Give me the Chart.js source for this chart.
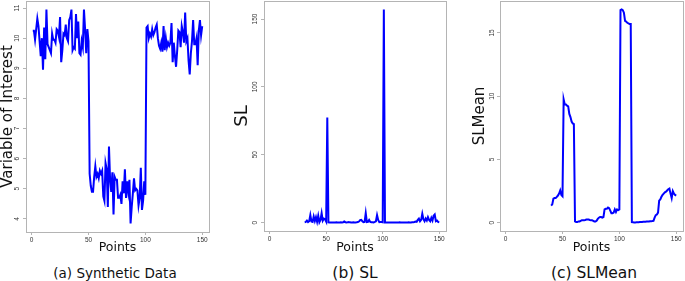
<!DOCTYPE html>
<html>
<head>
<meta charset="utf-8">
<script src="https://cdn.jsdelivr.net/npm/chart.js@4.4.1/dist/chart.umd.min.js"></script>
<style>
  body { margin: 0; background: #fff; }
  #wrap { position: relative; width: 685px; height: 281px; overflow: hidden; }
  .panel { position: absolute; top: 0; }
  .cap { position: absolute; top: 263px; height: 20px; line-height: 20px; width: 230px; text-align: center;
         font-family: "DejaVu Sans", sans-serif; color: #111; }
</style>
</head>
<body>
<div id="wrap">
  <canvas id="chartA" class="panel" width="230" height="260" style="left:0px"></canvas>
  <canvas id="chartB" class="panel" width="230" height="260" style="left:230px"></canvas>
  <canvas id="chartC" class="panel" width="230" height="260" style="left:455px"></canvas>
  <div class="cap" style="left:0px;font-size:13.5px">(a) Synthetic Data</div>
  <div class="cap" style="left:240px;font-size:15.5px">(b) SL</div>
  <div class="cap" style="left:479px;font-size:15.5px">(c) SLMean</div>
</div>
<script>
// x tick labels shared by all three panels
var xTicks = [0, 50, 100, 150];
var nPoints = 150;

// (a) Synthetic Data, points 1..150
var synthetic = [
  10.25,10.25,9.95,10.3,10.65,10.4,9.9,9.4,10.0,8.95,10.35,9.3,10.95,9.8,9.7,9.6,9.5,10.15,9.95,9.95,
  9.85,10.3,10.25,10.05,10.7,9.2,9.6,10.15,10.1,10.45,10.0,9.9,10.6,10.7,10.95,9.6,9.7,9.65,10.8,10.0,
  10.55,9.5,9.45,9.9,9.7,10.95,10.3,9.5,10.3,9.9,
  5.5,5.1,4.9,4.9,5.4,5.75,5.4,5.5,5.35,5.6,5.5,5.6,4.75,4.6,5.85,5.65,4.4,6.4,5.3,4.9,
  5.55,4.15,5.4,5.3,5.3,4.7,4.7,4.8,4.5,5.25,4.85,5.65,4.7,5.25,4.9,5.3,3.85,4.4,4.85,5.35,
  4.95,5.0,4.95,4.45,4.7,5.7,4.3,4.6,5.25,4.8,
  10.35,10.4,10.0,10.15,10.05,10.3,10.1,10.2,10.35,10.45,10.0,9.75,9.65,9.85,9.55,10.4,9.6,10.0,9.7,9.85,
  9.75,9.85,10.5,9.2,9.85,9.4,9.05,9.6,10.25,10.2,9.7,10.4,10.2,9.85,10.85,9.9,10.0,9.25,8.8,9.5,
  9.9,10.6,9.8,9.8,10.0,9.1,10.25,10.6,10.1,10.4
];
var syntheticTicks = [4, 5, 6, 7, 8, 9, 10, 11];

// (b) SL, points 31..150
var slStart = 31;
var sl = [
  0.3,0.5,1.5,0.4,1.0,5.5,0.8,0.5,4.5,1.2,4.0,0.6,5.0,0.3,2.0,7.0,1.5,3.0,2.5,0.8,
  77.5,0.2,0.1,0.1,0.1,0.1,0.1,0.1,0.2,0.1,0.1,0.1,0.2,0.1,0.3,0.8,0.3,0.1,0.2,0.5,
  0.2,0.1,0.1,0.2,0.1,0.1,0.2,0.4,0.8,1.8,2.0,1.0,0.3,0.5,7.0,0.4,0.6,2.0,0.5,0.2,
  0.3,0.1,0.5,1.0,5.5,2.0,0.3,0.5,0.4,0.2,157,0.1,0.1,0.1,0.1,0.1,0.1,0.1,0.1,0.1,
  0.1,0.1,0.1,0.1,0.2,0.1,0.1,0.1,0.1,0.1,0.1,0.1,0.2,0.1,0.1,0.2,0.3,0.5,0.8,0.6,
  2.0,3.0,1.0,2.0,6.5,2.5,1.0,3.0,1.5,4.0,2.0,1.0,3.5,1.5,5.0,6.0,1.0,1.5,0.5,0.2
];
var slTicks = [0, 50, 100, 150];

// (c) SLMean, points 40..150
var slMeanStart = 40;
var slMean = [
  1.35,1.45,1.9,1.95,1.95,2.05,2.15,2.3,2.55,2.2,2.1,
  9.75,9.35,9.35,9.25,9.2,8.6,8.35,8.0,7.85,7.8,
  0.1,0.05,0.05,0.1,0.1,0.15,0.2,0.2,0.2,0.22,
  0.25,0.25,0.25,0.22,0.2,0.2,0.15,0.1,0.1,0.15,
  0.3,0.4,0.45,0.45,0.4,0.45,1.05,1.1,1.1,1.2,
  1.15,0.95,0.75,0.75,0.8,1.05,0.85,1.05,1.0,1.05,
  16.8,16.85,16.8,16.6,15.95,15.9,15.8,15.75,15.7,15.7,
  0.05,0.03,0.02,0.02,0.03,0.03,0.04,0.05,0.05,0.06,
  0.07,0.08,0.08,0.1,0.1,0.1,0.12,0.12,0.13,0.15,
  0.4,0.6,0.65,0.8,1.75,1.85,2.05,2.2,2.3,2.4,
  2.45,2.55,2.65,2.7,2.3,1.95,2.5,2.3,2.2,2.15
];
var slMeanTicks = [0, 5, 10, 15];

function toXY(values, start) {
  var out = [];
  for (var i = 0; i < values.length; i++) out.push({x: start + i, y: values[i]});
  return out;
}

// R style range: data range padded by 4% on each side
function rRange(lo, hi) {
  var d = (hi - lo) * 0.04;
  return [lo - d, hi + d];
}

// grey box round the plot area, like R's box()
var boxPlugin = {
  id: 'rbox',
  afterDraw: function(chart) {
    var a = chart.chartArea, ctx = chart.ctx;
    ctx.save();
    ctx.strokeStyle = '#b4b4b4';
    ctx.lineWidth = 1;
    ctx.strokeRect(Math.round(a.left) + 0.5, Math.round(a.top) + 0.5,
      Math.round(a.right - a.left), Math.round(a.bottom - a.top));
    ctx.restore();
  }
};

function makePanel(id, p) {
  var xr = rRange(1, nPoints);
  var yr = rRange(Math.min.apply(null, p.values), Math.max.apply(null, p.values));
  return new Chart(document.getElementById(id), {
    type: 'line',
    data: {
      datasets: [{
        data: toXY(p.values, p.start),
        borderColor: '#0000ff',
        borderWidth: 2,
        pointRadius: 0,
        tension: 0,
        fill: false
      }]
    },
    options: {
      responsive: false,
      animation: false,
      events: [],
      layout: { padding: { left: 0, top: 1, right: p.right, bottom: 0 } },
      plugins: { legend: { display: false }, tooltip: { enabled: false } },
      scales: {
        x: {
          type: 'linear',
          min: xr[0], max: xr[1],
          afterBuildTicks: function(s) { s.ticks = xTicks.map(function(v) { return {value: v}; }); },
          afterFit: function(s) { s.height = 260 - p.bottom; s.paddingLeft = 0; s.paddingRight = 0; },
          border: { display: false },
          grid: { display: true, drawOnChartArea: false, drawTicks: true, tickLength: 3, color: '#b4b4b4' },
          ticks: { padding: 1, color: '#333', font: { family: 'Liberation Sans', size: 6.5 },
                   maxRotation: 0, autoSkip: false, callback: function(v) { return v; } },
          title: { display: true, text: 'Points', color: '#111', padding: { top: 0, bottom: 6 },
                   font: { family: 'DejaVu Sans', size: 12.5, lineHeight: 1 } }
        },
        y: {
          type: 'linear',
          min: yr[0], max: yr[1],
          afterBuildTicks: function(s) { s.ticks = p.yTicks.map(function(v) { return {value: v}; }); },
          afterFit: function(s) { s.width = p.left; s.paddingTop = 0; s.paddingBottom = 0; },
          border: { display: false },
          grid: { display: true, drawOnChartArea: false, drawTicks: true, tickLength: 3, color: '#b4b4b4' },
          ticks: { padding: p.tickPad, color: '#333', crossAlign: 'center', minRotation: 90, maxRotation: 90,
                   font: { family: 'Liberation Sans', size: 6.5 }, autoSkip: false,
                   callback: function(v) { return v; } },
          title: { display: true, text: p.title, color: '#111', padding: { top: p.titlePad, bottom: 0 },
                   font: { family: 'DejaVu Sans', size: p.titleSize, lineHeight: 1 } }
        }
      }
    },
    plugins: [boxPlugin]
  });
}

makePanel('chartA', { values: synthetic, start: 1, yTicks: syntheticTicks, title: 'Variable of Interest',
  titleSize: 15, titlePad: 0.5, left: 26, right: 21, bottom: 232, tickPad: 2 });
makePanel('chartB', { values: sl, start: slStart, yTicks: slTicks, title: 'SL',
  titleSize: 18, titlePad: 3, left: 34, right: 14, bottom: 231, tickPad: 0.5 });
makePanel('chartC', { values: slMean, start: slMeanStart, yTicks: slMeanTicks, title: 'SLMean',
  titleSize: 15, titlePad: 17.5, left: 45, right: 2, bottom: 231, tickPad: 1.5 });
</script>
</body>
</html>
